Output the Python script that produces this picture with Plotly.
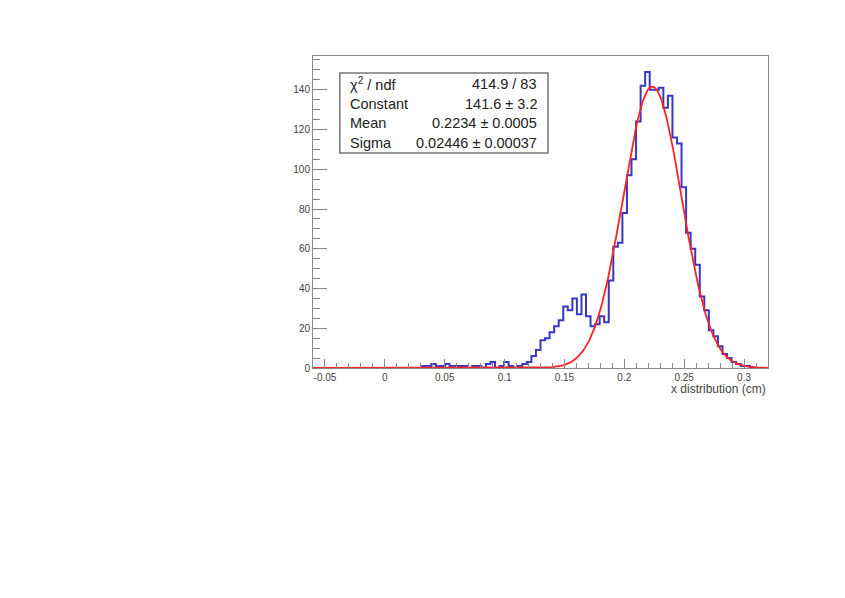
import numpy as np
import plotly.graph_objects as go

# histogram: 100 bins between -0.06 and 0.32 (cm)
x_min = -0.06
x_max = 0.32
n_bins = 100

counts = [
    0, 0, 0, 0, 0, 0, 0, 0, 0, 0,
    0, 0, 0, 0, 0, 0, 0, 0, 0, 0,
    0, 0, 0, 0, 1, 1, 2, 1, 1, 2,
    1, 1, 1, 1, 0, 1, 1, 0, 2, 3,
    0, 1, 3, 1, 0, 1, 2, 3, 6, 9,
    14, 15, 18, 21, 24, 31, 29, 35, 27, 37,
    26, 21, 22, 26, 23, 44, 61, 63, 78, 97,
    105, 124, 142, 149, 140, 140, 141, 131, 137, 116,
    113, 91, 68, 60, 52, 36, 29, 19, 16, 11,
    7, 5, 3, 2, 1, 1, 0, 0, 0, 0,
]

# gaussian fit result (stats box)
fit_const = 141.6
fit_mean = 0.2234
fit_sigma = 0.02446
stat_labels = ["χ<sup>2</sup> / ndf", "Constant", "Mean", "Sigma"]
stat_values = ["414.9 / 83", "141.6 ± 3.2", "0.2234 ± 0.0005", "0.02446 ± 0.00037"]

x_ticks = [-0.05, 0, 0.05, 0.1, 0.15, 0.2, 0.25, 0.3]
x_tick_labels = ["-0.05", "0", "0.05", "0.1", "0.15", "0.2", "0.25", "0.3"]
y_ticks = [0, 20, 40, 60, 80, 100, 120, 140]

edges = np.linspace(x_min, x_max, n_bins + 1)
fx = np.linspace(x_min, x_max, 600)
fy = fit_const * np.exp(-0.5 * ((fx - fit_mean) / fit_sigma) ** 2)

fig = go.Figure()
fig.add_trace(go.Scatter(
    x=edges, y=counts + [counts[-1]], mode="lines", line_shape="hv",
    line=dict(color="rgb(55,55,195)", width=2), showlegend=False
))
fig.add_trace(go.Scatter(
    x=fx, y=fy, mode="lines",
    line=dict(color="rgb(255,35,35)", width=1.8), showlegend=False
))

font = "Liberation Sans, Arial, sans-serif"
axis_common = dict(
    showline=True, linecolor="#888", linewidth=1, mirror=True,
    ticks="inside", tickcolor="#888", tickwidth=1,
    showgrid=False, zeroline=False,
    tickfont=dict(family=font, size=10, color="#444"),
)
fig.update_layout(
    width=845, height=598,
    margin=dict(l=305, r=85, t=48, b=238),
    paper_bgcolor="white", plot_bgcolor="white",
    xaxis=dict(
        range=[x_min, x_max], tickvals=x_ticks, ticktext=x_tick_labels,
        ticklen=9, minor=dict(ticks="inside", ticklen=5, dtick=0.01, tick0=0,
                              tickcolor="#888", showgrid=False),
        **axis_common
    ),
    yaxis=dict(
        range=[0, 157], tickvals=y_ticks, ticklen=14,
        minor=dict(ticks="inside", ticklen=7, dtick=5, tick0=0,
                   tickcolor="#888", showgrid=False),
        **axis_common
    ),
)

# stats box
fig.add_shape(type="rect", xref="paper", yref="paper",
              x0=0.059, x1=0.5165, y0=0.689, y1=0.9455,
              line=dict(color="#777", width=1.5), fillcolor="white", layer="above")
row_y = [0.910, 0.846, 0.784, 0.721]
for lab, val, yy in zip(stat_labels, stat_values, row_y):
    fig.add_annotation(x=0.077, y=yy, xref="paper", yref="paper", text=lab,
                       showarrow=False, xanchor="left", yanchor="middle",
                       font=dict(family=font, size=14.5, color="#222"))
    fig.add_annotation(x=0.497, y=yy, xref="paper", yref="paper", text=val,
                       showarrow=False, xanchor="right", yanchor="middle",
                       font=dict(family=font, size=14.5, color="#222"))

fig.add_annotation(x=1.0, y=-0.067, xref="paper", yref="paper",
                   text="x distribution (cm)", showarrow=False,
                   xanchor="right", yanchor="middle",
                   font=dict(family=font, size=12, color="#444"))

fig.write_html("out.html")
